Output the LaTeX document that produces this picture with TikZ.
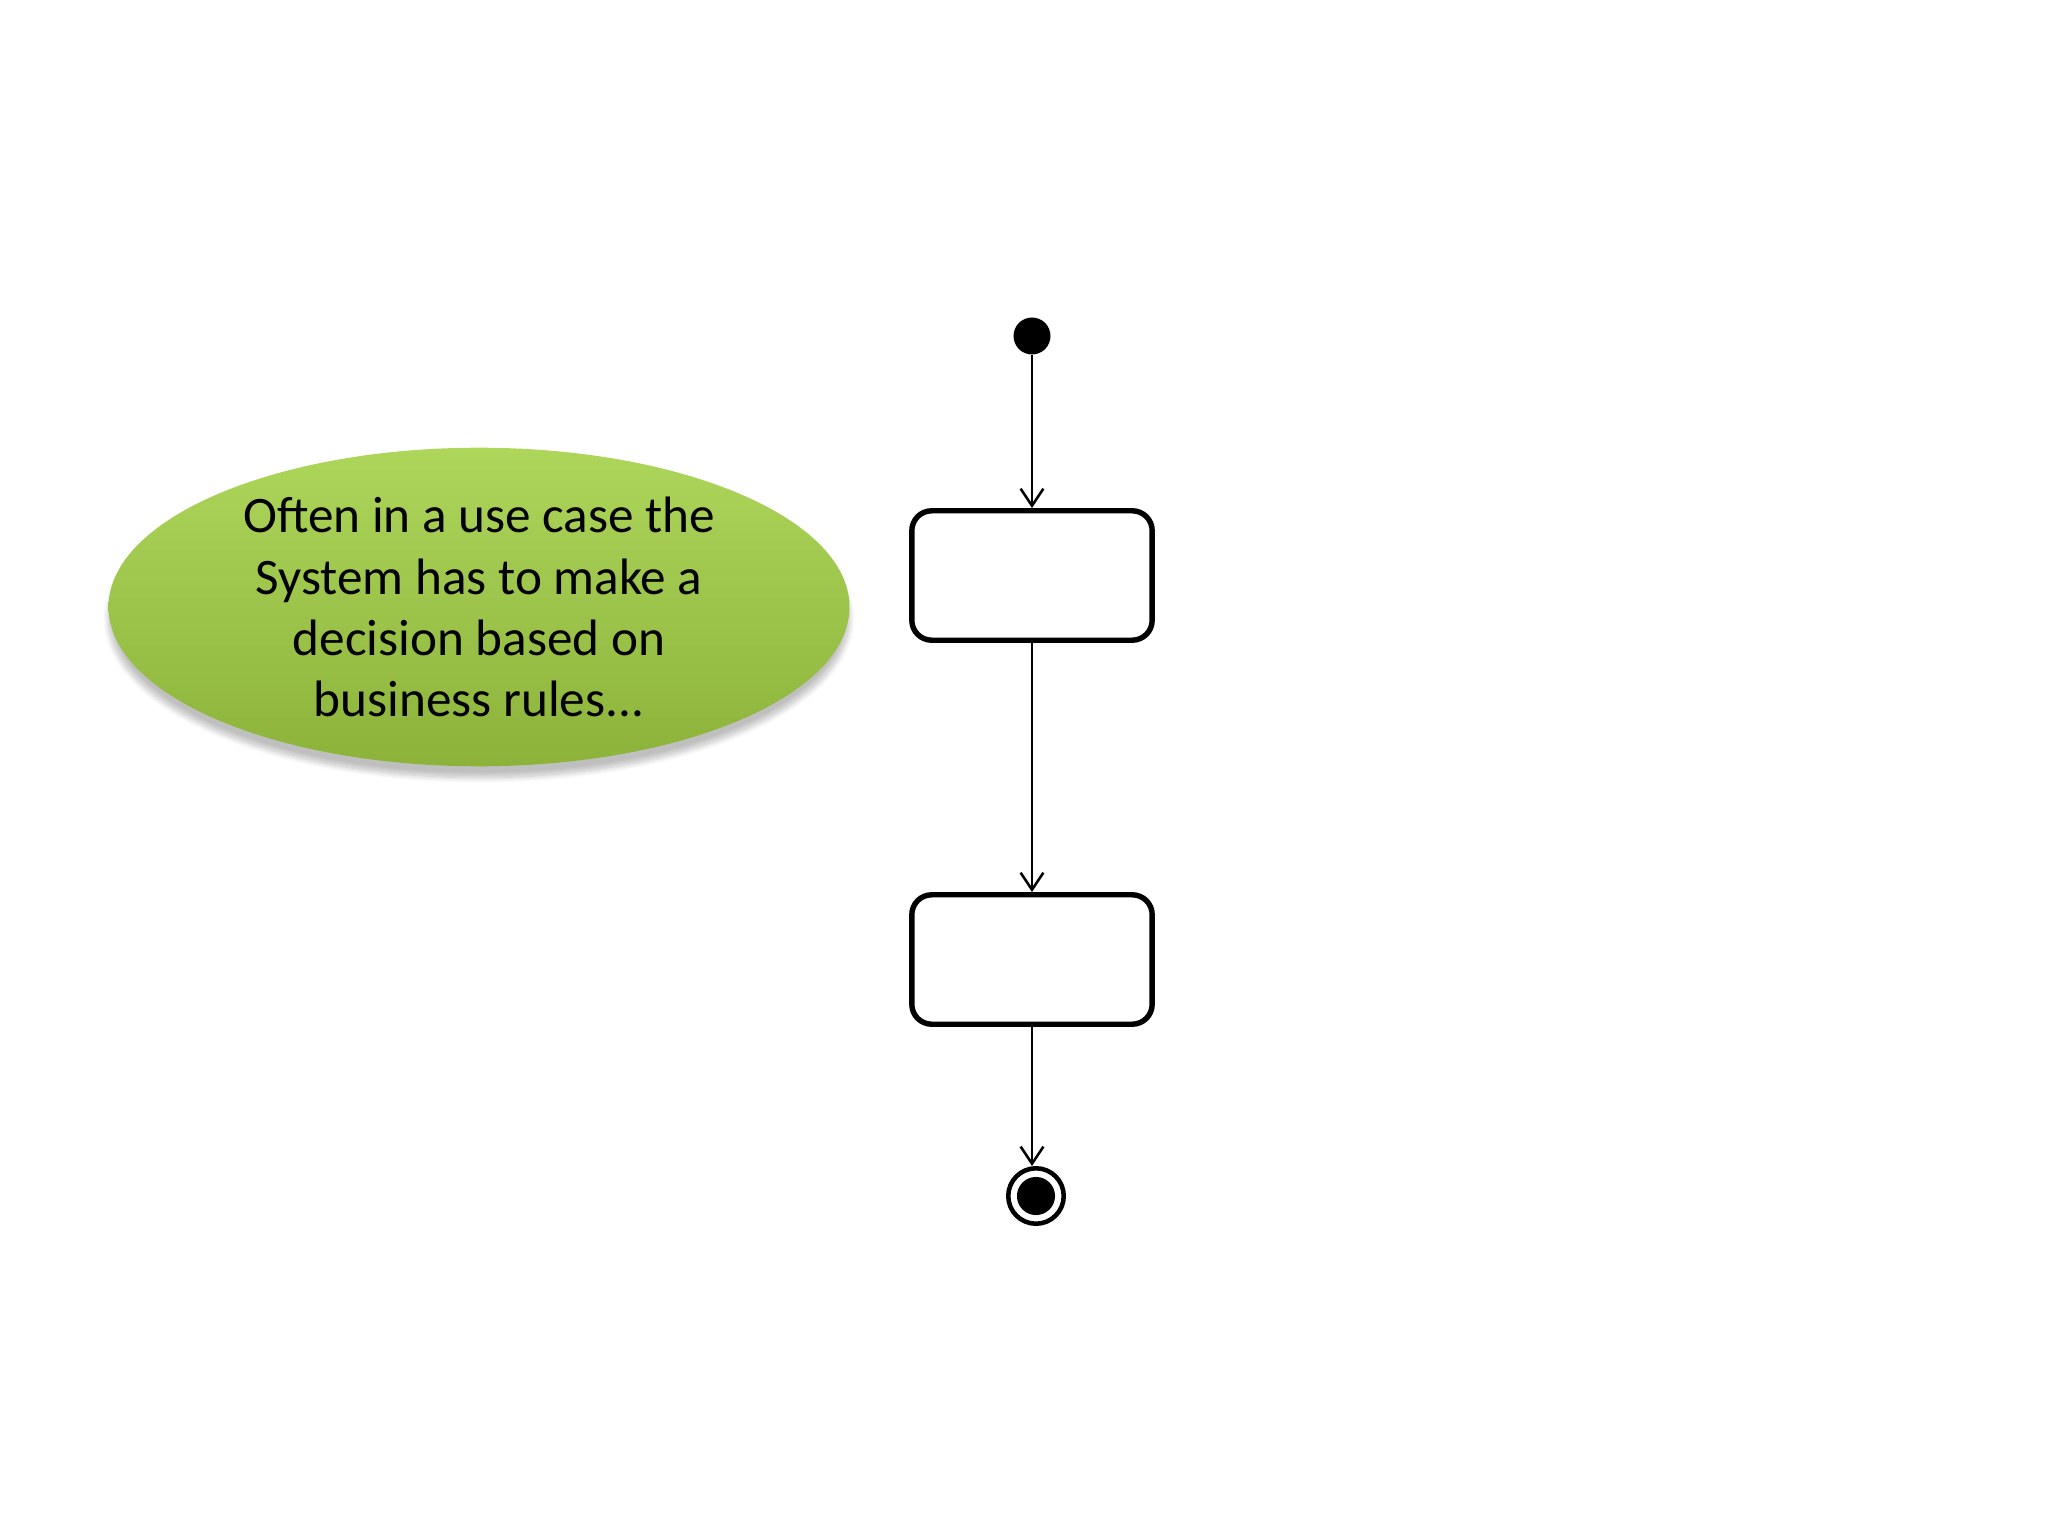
\documentclass[tikz,border=0pt]{standalone}
\usepackage{fontspec}
\setmainfont{Carlito}
\usetikzlibrary{arrows.meta,shapes.geometric,shadows.blur}
\definecolor{gtop}{HTML}{ADD65B}
\definecolor{gbot}{HTML}{8CB23A}
\tikzset{
  statebox/.style={draw, line width=1.9pt, rounded corners=7pt, minimum width=84.5pt, minimum height=45.5pt, fill=white, inner sep=0pt},
  flow/.style={line width=0.9pt, -{Straight Barb[length=6pt,width=8pt,line width=0.9pt]}},
  note/.style={ellipse, minimum width=260.5pt, minimum height=112pt, top color=gtop, bottom color=gbot, inner sep=0pt, align=center, font=\fontsize{18pt}{21.5pt}\selectfont, blur shadow={shadow xshift=0pt, shadow yshift=-4pt, shadow blur steps=10, shadow opacity=25}}
}
\begin{document}
\begin{tikzpicture}[x=0.3515625pt,y=-0.3515625pt]
\useasboundingbox (0,0) rectangle (2048,1536);
\node[note] (note) at (479,607) {Often in a use case the\\System has to make a\\decision based on\\business rules...};
\node[circle, fill=black, minimum size=13pt, inner sep=0pt] (start) at (1032,336) {};
\node[statebox] (box1) at (1032,575.5) {};
\node[statebox] (box2) at (1032,959.5) {};
\node[circle, draw, line width=1.6pt, minimum size=19.5pt, inner sep=0pt, fill=white] (end) at (1036,1196) {};
\node[circle, fill=black, minimum size=13.4pt, inner sep=0pt] (endin) at (end.center) {};
\draw[flow] (start) -- (box1.north);
\draw[flow] (box1.south) -- (box2.north);
\draw[flow] (box2.south) -- (box2.south |- end.north);
\end{tikzpicture}
\end{document}
